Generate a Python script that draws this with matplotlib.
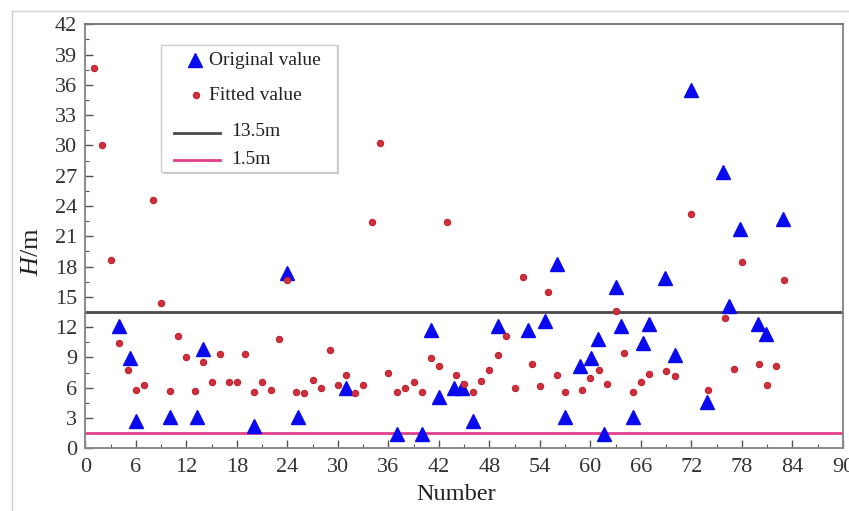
import matplotlib
matplotlib.use('Agg')
import matplotlib.pyplot as plt
from matplotlib.lines import Line2D
from matplotlib.patches import Rectangle
from matplotlib.ticker import MultipleLocator

plt.rcParams['font.family'] = ['Liberation Serif', 'DejaVu Serif']
plt.rcParams['mathtext.fontset'] = 'custom'
plt.rcParams['mathtext.it'] = 'Liberation Serif:italic'

# -- data ------------------------------------------------------------------
orig_x = [4, 5.3, 6, 10, 13.2, 14, 20, 24, 25.2, 31, 37, 40, 41, 42, 43.8, 44.7,
          46, 49, 52.6, 54.6, 56, 57, 58.8, 60.1, 60.9, 61.6, 63, 63.6, 65, 66.2,
          67, 68.9, 70.1, 72, 73.9, 75.8, 76.5, 77.8, 79.9, 80.8, 82.9]
orig_y = [12.1, 8.9, 2.7, 3.1, 3.1, 9.8, 2.2, 17.4, 3.1, 6.0, 1.4, 1.4, 11.7, 5.1, 6.0, 6.0,
          2.7, 12.1, 11.7, 12.6, 18.3, 3.1, 8.2, 8.9, 10.8, 1.4, 16.0, 12.1, 3.1, 10.4,
          12.3, 16.9, 9.2, 35.5, 4.6, 27.4, 14.1, 21.7, 12.3, 11.3, 22.7]

fit_x = list(range(1, 58)) + [59, 60, 61, 62, 63, 64, 65, 66, 67, 69, 70, 72, 74,
                              76, 77, 78, 80, 81, 82, 83]
fit_y = [37.7, 30.0, 18.7, 10.4, 7.8, 5.8, 6.3, 24.6, 14.4, 5.7,
         11.1, 9.0, 5.7, 8.5, 6.6, 9.3, 6.6, 6.6, 9.3, 5.6,
         6.6, 5.8, 10.8, 16.7, 5.6, 5.5, 6.8, 6.0, 9.7, 6.3,
         7.3, 5.5, 6.3, 22.4, 30.2, 7.5, 5.6, 6.0, 6.6, 5.6,
         8.9, 8.2, 22.4, 7.3, 6.4, 5.6, 6.7, 7.8, 9.2, 11.1,
         6.0, 17.0, 8.4, 6.2, 15.5, 7.3, 5.6,
         5.8, 7.0, 7.8, 6.4, 13.6, 9.4, 5.6, 6.6, 7.4, 7.7, 7.2, 23.2, 5.8,
         12.9, 7.9, 18.5, 8.4, 6.3, 8.2, 16.7]

limit_hi = 13.5
limit_lo = 1.5

tri_style = dict(marker='^', ls='none', color='#0a0aee', ms=10, mec='#0a0aee')
dot_style = dict(marker='o', ls='none', color='#d0303c', ms=4.5, mec='#c02030', mew=0.8)
hi_style = dict(color='#4a4a4a', lw=2.0)
lo_style = dict(color='#e2408a', lw=2.0)

# -- plot --------------------------------------------------------------------
fig = plt.figure(figsize=(8.49, 5.11), dpi=100)
ax = fig.add_axes([0.1007, 0.1227, 0.8922, 0.8297])

ax.axhline(limit_hi, zorder=2, **hi_style)
ax.axhline(limit_lo, zorder=2, **lo_style)
ax.plot(orig_x, orig_y, zorder=3, **tri_style)
ax.plot(fit_x, fit_y, zorder=4, **dot_style)

ax.set_xlim(0, 90)
ax.set_ylim(0, 42)
ax.xaxis.set_major_locator(MultipleLocator(6))
ax.xaxis.set_minor_locator(MultipleLocator(3))
ax.yaxis.set_major_locator(MultipleLocator(3))
ax.yaxis.set_minor_locator(MultipleLocator(1.5))
ax.tick_params(which='both', direction='in', colors='#555555',
               labelcolor='#333333', labelsize=16)
ax.tick_params(axis='x', pad=7)
ax.tick_params(axis='y', pad=6)
ax.tick_params(which='major', length=6, width=1.0)
ax.tick_params(which='minor', length=3, width=0.8)
ax.tick_params(top=False, right=False)
for s in ax.spines.values():
    s.set_color('#8a8a8a')
    s.set_linewidth(1.4)
ax.spines['top'].set_color('#777777')

ax.set_xlabel('Number', fontsize=17.5, color='#222222')
ax.xaxis.set_label_coords(0.489, -0.085)
ax.set_ylabel('$\\mathit{H}$/m', fontsize=19, color='#222222')
ax.yaxis.set_label_coords(-0.056, 0.463)

# -- legend drawn by hand (Origin style: marker rows and line rows indent differently)
T = ax.transAxes
ax.add_patch(Rectangle((0.1023, 0.6473), 0.2323, 0.3037, transform=T,
                       facecolor='#c8c8c8', edgecolor='none', zorder=5))
ax.add_patch(Rectangle((0.0997, 0.652), 0.2323, 0.299, transform=T,
                       facecolor='white', edgecolor='#cfcfcf', lw=1.0, zorder=6))
ax.plot([0.1446], [0.916], transform=T, clip_on=False, zorder=7, **tri_style)
ax.plot([0.1459], [0.833], transform=T, clip_on=False, zorder=7, **dot_style)
ax.plot([0.1168, 0.1776], [0.744, 0.744], transform=T, zorder=7, **hi_style)
ax.plot([0.1168, 0.1776], [0.680, 0.680], transform=T, zorder=7, **lo_style)
leg_txt = dict(transform=T, fontsize=14, color='#222222', va='center', ha='left', zorder=8)
ax.text(0.163, 0.915, 'Original value', **leg_txt)
ax.text(0.163, 0.831, 'Fitted value', **leg_txt)
ax.text(0.192, 0.748, '13.5m', **leg_txt)
ax.text(0.192, 0.682, '1.5m', **leg_txt)

# thin light frame round the whole picture
fig.add_artist(Line2D([12 / 849, 12 / 849], [0, 1 - 11 / 511],
                      transform=fig.transFigure, color='#d0d0d0', lw=1))
fig.add_artist(Line2D([12 / 849, 1], [1 - 11 / 511, 1 - 11 / 511],
                      transform=fig.transFigure, color='#d0d0d0', lw=1))

fig.savefig('out.png', dpi=100)
